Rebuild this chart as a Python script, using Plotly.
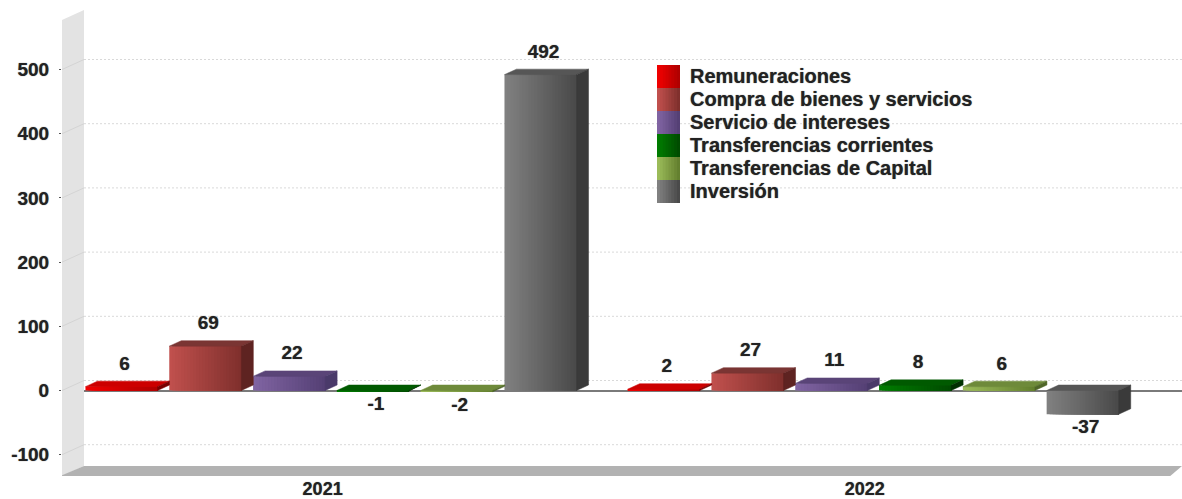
import plotly.graph_objects as go

years = ["2021", "2022"]
series = ["Remuneraciones", "Compra de bienes y servicios", "Servicio de intereses",
          "Transferencias corrientes", "Transferencias de Capital", "Inversión"]
values_2021 = [6, 69, 22, -1, -2, 492]
values_2022 = [2, 27, 11, 8, 6, -37]
y_ticks = [-100, 0, 100, 200, 300, 400, 500]

light = ["#f00000", "#c0504d", "#8064a2", "#007c00", "#9bbb59", "#808080"]
dark = ["#b00000", "#80302d", "#554075", "#004c00", "#64802f", "#4a4a4a"]
top_c = ["#cc0000", "#7a3533", "#5a4478", "#005a00", "#6e8a3a", "#565656"]
side_c = ["#7a0000", "#5e2321", "#4a3a6a", "#003000", "#4f6628", "#3a3a3a"]

W, H = 1182, 499
PL, PR, PT, PB = 62, 1182, 10, 476     # plot rectangle in page pixels
ZERO = 390.5
PX_PER_UNIT = 0.642
PX_PER_SLOT = 83.8
X0 = 121.5                              # centre of first bar, page pixels
GROUP_STEP = 6.47
BAR_W = 0.86
DX, DY = 12 / PX_PER_SLOT, 5.5 / PX_PER_UNIT
WALL_DX, WALL_DY = 22 / PX_PER_SLOT, 10 / PX_PER_UNIT
N_STRIPS = 24
LIFT_UP, LIFT_DOWN = 6.7 / PX_PER_UNIT, 4.5 / PX_PER_UNIT
FONT = dict(family="Liberation Sans", size=19, color="#222222", weight=700,
            shadow="0 0 1px #666666")
LEGEND_FONT = dict(FONT, size=20)
YEAR_FONT = dict(FONT, size=18)


def hx(c1, c2, t):
    a = [int(c1[i:i + 2], 16) for i in (1, 3, 5)]
    b = [int(c2[i:i + 2], 16) for i in (1, 3, 5)]
    return "#%02x%02x%02x" % tuple(round(p + (q - p) * t) for p, q in zip(a, b))


xmin = (PL - X0) / PX_PER_SLOT
xmax = (PR - X0) / PX_PER_SLOT
ymax = (ZERO - PT) / PX_PER_UNIT
ymin = (ZERO - PB) / PX_PER_UNIT

fig = go.Figure()


def poly(xs, ys, color, width=0):
    fig.add_trace(go.Scatter(x=xs, y=ys, mode="lines", fill="toself", fillcolor=color,
                             line=dict(color=color, width=width), hoverinfo="skip",
                             showlegend=False))


shapes, annots = [], []

# gridlines on back wall and their diagonals on the side wall, beneath all traces
for t in y_ticks:
    shapes.append(dict(type="line", xref="x", yref="y", layer="below",
                       x0=xmin + WALL_DX, x1=xmax, y0=t + WALL_DY, y1=t + WALL_DY,
                       line=dict(color="#d9d9d9", width=1, dash="2px,2px")))

# wall and floor
wall_top = (ZERO - 20) / PX_PER_UNIT
poly([xmin, xmin + WALL_DX, xmin + WALL_DX, xmin, xmin],
     [wall_top, wall_top + WALL_DY, ymin + WALL_DY, ymin, wall_top], "#e3e3e3")
poly([xmin - 0.02, xmin + WALL_DX, xmax, xmax - 0.14, xmin - 0.02],
     [ymin, ymin + WALL_DY, ymin + WALL_DY, ymin, ymin], "#b2b2b2")
for t in y_ticks:
    fig.add_trace(go.Scatter(x=[xmin, xmin + WALL_DX], y=[t, t + WALL_DY], mode="lines",
                             line=dict(color="#d4d4d4", width=1),
                             hoverinfo="skip", showlegend=False))

# 3D faces and gradient fronts
label_x, label_y, label_t, label_p = [], [], [], []
for s in range(len(series)):
    strip_x, strip_y, strip_w, strip_c = [], [], [], []
    for g, vals in enumerate([values_2021, values_2022]):
        v = vals[s]
        c = s + g * GROUP_STEP
        L, R = c - BAR_W / 2, c + BAR_W / 2
        hi, lo = max(v, 0), min(v, 0)
        poly([L, L + DX, R + DX, R, L], [hi, hi + DY, hi + DY, hi, hi], top_c[s], 0.5)
        poly([R, R + DX, R + DX, R, R], [hi, hi + DY, lo + DY, lo, hi], side_c[s], 0.5)
        for k in range(N_STRIPS):
            # each strip runs to the bar's right edge; later ones paint over it
            left = L + k * BAR_W / N_STRIPS
            strip_x.append((left + R) / 2)
            strip_w.append(R - left)
            strip_y.append(v)
            strip_c.append(hx(light[s], dark[s], k / (N_STRIPS - 1)))
        label_x.append(c + 3 / PX_PER_SLOT)
        label_y.append(hi + DY + LIFT_UP if v >= 0 else lo - LIFT_DOWN)
        label_t.append(str(v))
        label_p.append("top center" if v >= 0 else "bottom center")
    fig.add_trace(go.Bar(x=strip_x, y=strip_y, width=strip_w,
                         marker=dict(color=strip_c, line=dict(width=0)),
                         hoverinfo="skip", showlegend=False))

fig.add_trace(go.Scatter(x=label_x, y=label_y, text=label_t, mode="text",
                         textposition=label_p, textfont=FONT,
                         hoverinfo="skip", showlegend=False))

# legend, drawn as contiguous gradient swatches
sw_x0, sw_w, sw_y0, sw_h = 657, 23, 65, 23
for i, name in enumerate(series):
    for k in range(8):
        x0 = sw_x0 + sw_w * k / 8
        x1 = sw_x0 + sw_w
        y0 = sw_y0 + sw_h * i
        shapes.append(dict(type="rect", xref="paper", yref="paper",
                           x0=(x0 - PL) / (PR - PL), x1=(x1 - PL) / (PR - PL),
                           y0=(PB - y0) / (PB - PT), y1=(PB - y0 - sw_h) / (PB - PT),
                           fillcolor=hx(light[i], dark[i], k / 7), line=dict(width=0),
                           layer="above"))
    annots.append(dict(text=name, xref="paper", yref="paper", showarrow=False,
                       x=(690 - PL) / (PR - PL), xanchor="left", yanchor="middle",
                       xshift=-2,
                       y=(PB - (sw_y0 + sw_h * (i + 0.5) - 0.5)) / (PB - PT),
                       font=LEGEND_FONT))

fig.update_layout(
    width=W, height=H, margin=dict(l=PL, r=W - PR, t=PT, b=H - PB),
    paper_bgcolor="white", plot_bgcolor="white", barmode="overlay", showlegend=False,
    shapes=shapes, annotations=annots,
    xaxis=dict(range=[xmin, xmax], tickmode="array",
               tickvals=[2.4, 2.4 + GROUP_STEP], ticktext=years, showgrid=False,
               zeroline=False, showline=False, ticks="", tickfont=YEAR_FONT,
               automargin=False, ticklabelstandoff=0),
    yaxis=dict(range=[ymin, ymax], tickmode="array", tickvals=y_ticks,
               ticktext=[str(t) for t in y_ticks], showgrid=False, zeroline=True,
               zerolinecolor="#7a7a7a", zerolinewidth=1.5, showline=False,
               ticks="outside", ticklen=2, tickcolor="#555555", tickfont=FONT,
               automargin=False, ticklabelstandoff=6),
)
fig.write_html("out.html", post_script="document.body.style.margin='0';",
               config=dict(displayModeBar=False))
